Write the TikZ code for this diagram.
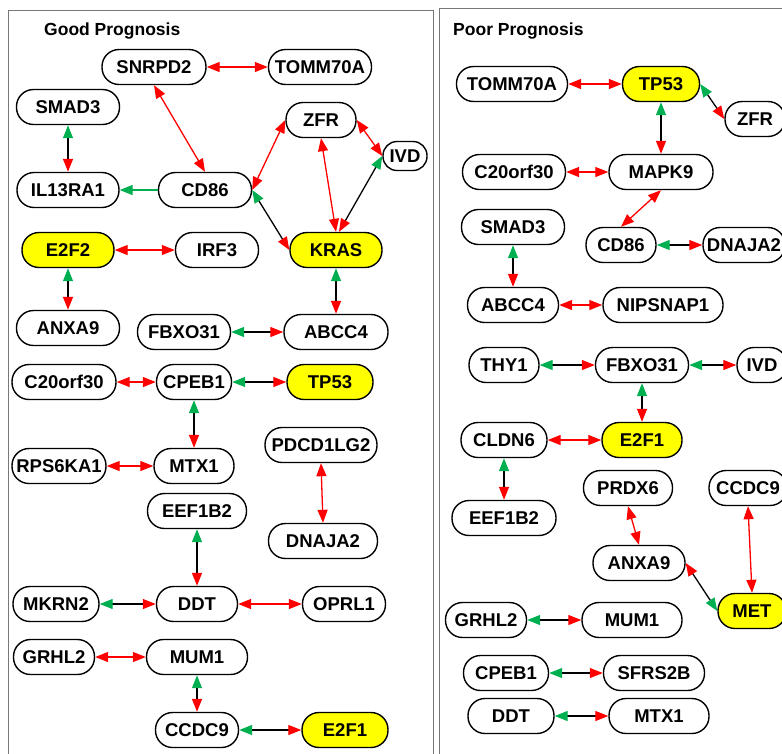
\documentclass[tikz,border=0pt]{standalone}
\usepackage{fontspec}
\setmainfont{Liberation Sans}
\usetikzlibrary{arrows.meta}
\definecolor{grn}{RGB}{0,176,80}
\definecolor{hly}{RGB}{255,255,0}
\definecolor{panelgray}{RGB}{120,120,120}
\tikzset{
  gene/.style={draw, line width=1.4pt, rounded corners=17pt, minimum height=35pt,
    inner sep=0pt, font=\fontsize{18.5}{20}\selectfont\bfseries, text height=13.5pt,
    text depth=0pt, fill=white},
  hl/.style={gene, fill=hly},
  tipR/.tip={Triangle[length=13pt,width=10pt,color=red]},
  tipG/.tip={Triangle[length=13pt,width=10pt,color=grn]},
  rr/.style={draw=red, line width=1.3pt, tipR-tipR},
  gr/.style={draw=black, line width=1.3pt, tipG-tipR},
  gonly/.style={draw=grn, line width=1.3pt, -tipG},
  panel/.style={draw=panelgray, line width=1pt},
  title/.style={anchor=base west, inner sep=0pt, font=\fontsize{17.5}{20}\selectfont\bfseries}
}
\begin{document}
\begin{tikzpicture}[x=1pt,y=-1pt]
\useasboundingbox (0,0) rectangle (782,753);
\clip (0,0) rectangle (782,753);
% panels
\draw[panel] (8,770) -- (8,10) -- (433,10) -- (433,770);
\draw[panel] (439,770) -- (439,8) -- (800,8);
\node[title] (tgood) at (44,35) {Good Prognosis};
\node[title] (tpoor) at (453,35) {Poor Prognosis};

% ---------------- Good prognosis ----------------
\node[gene, minimum width=104pt] (snrpd2) at (154,67) {SNRPD2};
\node[gene, minimum width=103pt] (tommL) at (320,67) {TOMM70A};
\node[gene, minimum width=103pt] (smadL) at (68,107) {SMAD3};
\node[gene, minimum width=70pt] (zfrL) at (321,120) {ZFR};
\node[gene, minimum width=44pt, minimum height=29pt, rounded corners=14pt] (ivdL) at (405,156) {IVD};
\node[gene, minimum width=102pt] (il13) at (68,190) {IL13RA1};
\node[gene, minimum width=93pt] (cd86L) at (205,190) {CD86};
\node[hl, minimum width=92pt] (kras) at (336,250) {KRAS};
\node[hl, minimum width=92pt] (e2f2) at (68,250) {E2F2};
\node[gene, minimum width=83pt] (irf3) at (217,250) {IRF3};
\node[gene, minimum width=103pt] (anxaL) at (68,328) {ANXA9};
\node[gene, minimum width=93pt] (fbxoL) at (184,332) {FBXO31};
\node[gene, minimum width=104pt] (abccL) at (336,332) {ABCC4};
\node[gene, minimum width=104pt] (c20L) at (64,382) {C20orf30};
\node[gene, minimum width=75pt] (cpebL) at (194,382) {CPEB1};
\node[hl, minimum width=86pt] (tp53L) at (330,382) {TP53};
\node[gene, minimum width=112pt] (pdcd) at (321,445) {PDCD1LG2};
\node[gene, minimum width=94pt] (rps) at (59,466) {RPS6KA1};
\node[gene, minimum width=80pt] (mtxL) at (194,466) {MTX1};
\node[gene, minimum width=99pt] (eefL) at (197,511) {EEF1B2};
\node[gene, minimum width=109pt] (dnajL) at (323,541) {DNAJA2};
\node[gene, minimum width=86pt] (mkrn) at (56,604) {MKRN2};
\node[gene, minimum width=81pt] (ddtL) at (197,604) {DDT};
\node[gene, minimum width=83pt] (oprl) at (344,604) {OPRL1};
\node[gene, minimum width=81pt] (grhlL) at (54,657) {GRHL2};
\node[gene, minimum width=101pt] (mumL) at (197,657) {MUM1};
\node[gene, minimum width=83pt] (ccdcL) at (197,730) {CCDC9};
\node[hl, minimum width=86pt] (e2f1L) at (345,730) {E2F1};

\draw[rr] (snrpd2.east) -- (tommL.west);
\draw[rr] (snrpd2.south) -- (cd86L.north);
\draw[gr] (smadL.south) -- (il13.north);
\draw[gonly] (cd86L.west) -- (il13.east);
\draw[rr] (cd86L.east) -- (zfrL.west);
\draw[rr] (zfrL.south) -- (kras.north);
\draw[rr] (zfrL.east) -- (ivdL.west);
\draw[gr] (ivdL.west) -- ([xshift=3pt]kras.north);
\draw[gr] (cd86L.east) -- (kras.west);
\draw[rr] (e2f2.east) -- (irf3.west);
\draw[gr] (e2f2.south) -- (anxaL.north);
\draw[gr] (kras.south) -- (abccL.north);
\draw[gr] (fbxoL.east) -- (abccL.west);
\draw[rr] (c20L.east) -- (cpebL.west);
\draw[gr] (cpebL.east) -- (tp53L.west);
\draw[gr] (cpebL.south) -- (mtxL.north);
\draw[rr] (rps.east) -- (mtxL.west);
\draw[rr] (pdcd.south) -- (dnajL.north);
\draw[gr] (eefL.south) -- (ddtL.north);
\draw[gr] (mkrn.east) -- (ddtL.west);
\draw[rr] (ddtL.east) -- (oprl.west);
\draw[rr] (grhlL.east) -- (mumL.west);
\draw[gr] (mumL.south) -- (ccdcL.north);
\draw[gr] (ccdcL.east) -- (e2f1L.west);

% ---------------- Poor prognosis ----------------
\node[gene, minimum width=111pt] (tommR) at (512,84) {TOMM70A};
\node[hl, minimum width=77pt] (tp53R) at (661,84) {TP53};
\node[gene, minimum width=60pt] (zfrR) at (755,119) {ZFR};
\node[gene, minimum width=103pt] (c20R) at (514,172) {C20orf30};
\node[gene, minimum width=104pt] (mapk) at (661,172) {MAPK9};
\node[gene, minimum width=103pt] (smadR) at (513,227) {SMAD3};
\node[gene, minimum width=70pt] (cd86R) at (621,245) {CD86};
\node[gene, minimum width=82pt] (dnajR) at (744,245) {DNAJA2};
\node[gene, minimum width=91pt] (abccR) at (513,305) {ABCC4};
\node[gene, minimum width=120pt] (nips) at (663,305) {NIPSNAP1};
\node[gene, minimum width=70pt] (thy) at (504,365) {THY1};
\node[gene, minimum width=93pt] (fbxoR) at (642,365) {FBXO31};
\node[gene, minimum width=50pt] (ivdR) at (762,365) {IVD};
\node[gene, minimum width=86pt] (cldn) at (504,440) {CLDN6};
\node[hl, minimum width=80pt] (e2f1R) at (642,440) {E2F1};
\node[gene, minimum width=89pt] (prdx) at (628,488) {PRDX6};
\node[gene, minimum width=78pt] (ccdcR) at (748,488) {CCDC9};
\node[gene, minimum width=104pt] (eefR) at (504,518) {EEF1B2};
\node[gene, minimum width=92pt] (anxaR) at (639,563) {ANXA9};
\node[hl, minimum width=68pt] (met) at (752,611) {MET};
\node[gene, minimum width=81pt] (grhlR) at (486,620) {GRHL2};
\node[gene, minimum width=100pt] (mumR) at (632,620) {MUM1};
\node[gene, minimum width=85pt] (cpebR) at (506,673) {CPEB1};
\node[gene, minimum width=101pt] (sfrs) at (654,673) {SFRS2B};
\node[gene, minimum width=86pt] (ddtR) at (511,716) {DDT};
\node[gene, minimum width=100pt] (mtxR) at (659,716) {MTX1};

\draw[rr] (tommR.east) -- (tp53R.west);
\draw[gr] (tp53R.east) -- (zfrR.west);
\draw[gr] (tp53R.south) -- (mapk.north);
\draw[rr] (c20R.east) -- (mapk.west);
\draw[rr] (mapk.south) -- (cd86R.north);
\draw[gr] (smadR.south) -- (abccR.north);
\draw[gr] (cd86R.east) -- (dnajR.west);
\draw[rr] (abccR.east) -- (nips.west);
\draw[gr] (thy.east) -- (fbxoR.west);
\draw[gr] (fbxoR.east) -- (ivdR.west);
\draw[gr] (fbxoR.south) -- (e2f1R.north);
\draw[rr] (cldn.east) -- (e2f1R.west);
\draw[gr] (cldn.south) -- (eefR.north);
\draw[rr] (prdx.south) -- (anxaR.north);
\draw[rr] (ccdcR.south) -- (met.north);
\draw[gr] (met.west) -- (anxaR.east);
\draw[gr] (grhlR.east) -- (mumR.west);
\draw[gr] (cpebR.east) -- (sfrs.west);
\draw[gr] (ddtR.east) -- (mtxR.west);
\end{tikzpicture}
\end{document}
